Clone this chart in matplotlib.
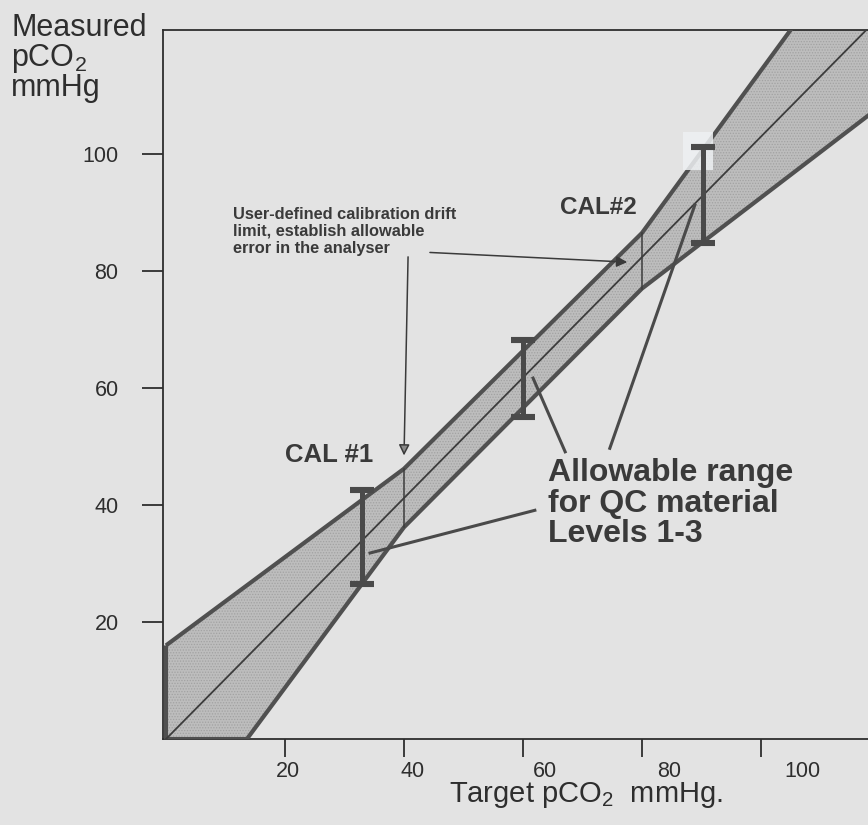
import numpy as np
import matplotlib.pyplot as plt
import matplotlib.transforms as mtransforms
from matplotlib.patches import Rectangle

plt.rcParams['font.family'] = ['Liberation Sans', 'DejaVu Sans']
plt.rcParams['mathtext.fontset'] = 'custom'
plt.rcParams['mathtext.rm'] = 'Liberation Sans'
plt.rcParams['hatch.linewidth'] = 0.6

BG = '#e3e3e3'
DARK = '#4a4a4a'

# allowable band: upper and lower limits (target vs measured pCO2, mmHg)
upper_x = [0, 40, 80, 125]
upper_y = [16, 46.2, 86.5, 149]
lower_x = [0, 13.6, 40, 80, 125]
lower_y = [0, 0, 36.2, 77, 112]

# identity line
center_x = [0, 118]
center_y = [0, 121.5]

# calibration points (drift limit boundaries)
cal_x = [40, 80]
cal_labels = ['CAL #1', 'CAL#2']

# QC material levels 1-3
qc_x = [33, 60, 90.3]
qc_low = [26.5, 55, 84.8]
qc_high = [42.6, 68.2, 101.2]

xticks = [20, 40, 60, 80, 100]
yticks = [20, 40, 60, 80, 100]

fig = plt.figure(figsize=(8.68, 8.25), dpi=100, facecolor=BG)
ax = fig.add_axes([0.1878, 0.1042, 0.8122, 0.8594], facecolor=BG)
ax.set_xlim(-0.5, 118)
ax.set_ylim(0, 121.2)

# shaded band
px = np.concatenate([upper_x, lower_x[::-1]])
py = np.concatenate([upper_y, lower_y[::-1]])
ax.fill(px, py, facecolor='#bdbdbd', edgecolor='#a2a2a2', hatch='......',
        linewidth=0, zorder=2)
ax.fill(px, py, facecolor='none', edgecolor='#505050', linewidth=3.0,
        joinstyle='miter', zorder=3)

ax.plot(center_x, center_y, color='#3c3c3c', lw=1.3, zorder=3)

# drift-limit verticals
for cx in cal_x:
    lo = np.interp(cx, lower_x, lower_y)
    hi = np.interp(cx, upper_x, upper_y)
    ax.plot([cx, cx], [lo, hi], color='#3c3c3c', lw=1.1, zorder=3)

# pale patch behind the top of level 3
ax.add_patch(Rectangle((86.9, 97.3), 5.0, 6.5, facecolor='#eef1f3',
                       edgecolor='none', alpha=0.85, zorder=3.5))

# QC ranges as I-bars
qc_mid = [(a + b) / 2 for a, b in zip(qc_low, qc_high)]
qc_err = [[m - a for m, a in zip(qc_mid, qc_low)],
          [b - m for m, b in zip(qc_mid, qc_high)]]
ax.errorbar(qc_x, qc_mid, yerr=qc_err, fmt='none', ecolor=DARK,
            elinewidth=3.6, capsize=8.5, capthick=4.4, zorder=4)

# labels on the chart
ax.text(27.5, 48.5, cal_labels[0], fontsize=18.5, fontweight='bold',
        color='#3a3a3a', ha='center', va='center')
ax.text(72.6, 90.8, cal_labels[1], fontsize=17.5, fontweight='bold',
        color='#3a3a3a', ha='center', va='center')

ax.text(11.3, 91.0, 'User-defined calibration drift\nlimit, establish allowable\n'
        'error in the analyser', fontsize=11.8, fontweight='bold',
        color='#3a3a3a', ha='left', va='top', linespacing=1.16)
ax.annotate('', xy=(40.0, 48.0), xytext=(40.7, 82.9),
            arrowprops=dict(arrowstyle='-|>', color='#3a3a3a', lw=1.1,
                            mutation_scale=16, fc='#8a8a8a'), zorder=5)
ax.annotate('', xy=(78.0, 81.5), xytext=(43.9, 83.2),
            arrowprops=dict(arrowstyle='-|>', color='#3a3a3a', lw=1.1,
                            mutation_scale=16), zorder=5)

ax.text(64.2, 48.0, 'Allowable range\nfor QC material\nLevels 1-3',
        fontsize=23, fontweight='bold', color='#3a3a3a', ha='left', va='top',
        linespacing=1.02)
ax.plot([67.1, 61.7], [49.1, 61.7], color=DARK, lw=2.2, zorder=5)
ax.plot([74.6, 88.9], [49.7, 91.3], color=DARK, lw=2.2, zorder=5)
ax.plot([62.0, 34.3], [39.1, 31.8], color=DARK, lw=2.2, zorder=5)

# axes
for s in ['left', 'bottom', 'top']:
    ax.spines[s].set_color('#2e2e2e')
    ax.spines[s].set_linewidth(1.3)
ax.spines['right'].set_visible(False)
ax.set_xticks(xticks)
ax.set_yticks(yticks)
ax.tick_params(axis='y', direction='out', length=15, width=1.3,
               pad=17, labelsize=15.5, colors='#2e2e2e')
ax.tick_params(axis='x', direction='out', length=13, width=1.3,
               pad=3, labelsize=15.5, colors='#2e2e2e')

# hand-lettered x tick labels sit a little right of their ticks
xlabel_nudge_px = [3, 9, 22, 27, 42]
for lab, dx in zip(ax.get_xticklabels(), xlabel_nudge_px):
    lab.set_transform(lab.get_transform() +
                      mtransforms.ScaledTranslation(dx / 100, 0, fig.dpi_scale_trans))

fig.text(0.013, 0.984, 'Measured\npCO$_{\\mathregular{2}}$\nmmHg', fontsize=22,
         color='#2e2e2e', ha='left', va='top', linespacing=0.93)
fig.text(0.675, 0.036, 'Target pCO$_{\\mathregular{2}}$  mmHg.', fontsize=21,
         color='#2e2e2e', ha='center', va='center')

fig.savefig('out.png', dpi=100, facecolor=BG)
